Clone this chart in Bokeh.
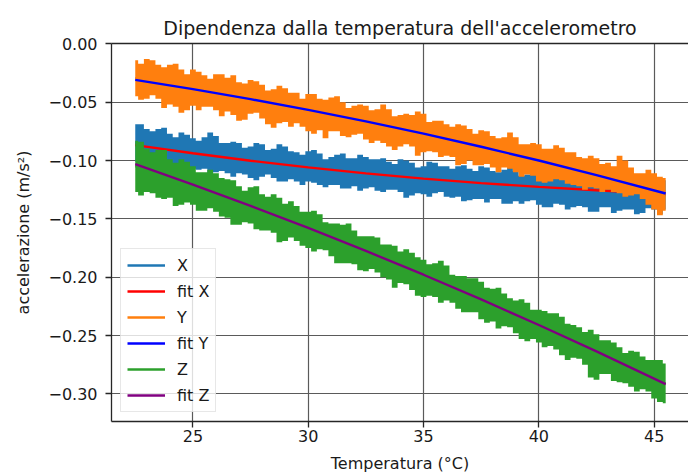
from bokeh.plotting import figure
from bokeh.models import Legend, LegendItem, FixedTicker, LinearAxis, Range1d
from bokeh.embed import file_html
from bokeh.resources import INLINE

# ---- data ----
TEMP = [22.5, 22.75, 23.0, 23.25, 23.5, 23.75, 24.0, 24.25, 24.5, 24.75,
        25.0, 25.25, 25.5, 25.75, 26.0, 26.25, 26.5, 26.75, 27.0, 27.25,
        27.5, 27.75, 28.0, 28.25, 28.5, 28.75, 29.0, 29.25, 29.5, 29.75,
        30.0, 30.25, 30.5, 30.75, 31.0, 31.25, 31.5, 31.75, 32.0, 32.25,
        32.5, 32.75, 33.0, 33.25, 33.5, 33.75, 34.0, 34.25, 34.5, 34.75,
        35.0, 35.25, 35.5, 35.75, 36.0, 36.25, 36.5, 36.75, 37.0, 37.25,
        37.5, 37.75, 38.0, 38.25, 38.5, 38.75, 39.0, 39.25, 39.5, 39.75,
        40.0, 40.25, 40.5, 40.75, 41.0, 41.25, 41.5, 41.75, 42.0, 42.25,
        42.5, 42.75, 43.0, 43.25, 43.5, 43.75, 44.0, 44.25, 44.5, 44.75,
        45.0, 45.25, 45.5]

# noisy measurements: upper / lower envelope of each trace
X_UP = [-0.069, -0.069, -0.073, -0.075, -0.073, -0.072, -0.077, -0.080, -0.076, -0.078,
        -0.081, -0.083, -0.080, -0.076, -0.079, -0.085, -0.085, -0.084, -0.085, -0.089,
        -0.088, -0.085, -0.086, -0.091, -0.090, -0.086, -0.088, -0.092, -0.093, -0.095,
        -0.092, -0.091, -0.094, -0.099, -0.097, -0.095, -0.094, -0.098, -0.098, -0.095,
        -0.097, -0.099, -0.099, -0.098, -0.101, -0.103, -0.099, -0.100, -0.102, -0.106,
        -0.105, -0.101, -0.102, -0.105, -0.105, -0.107, -0.105, -0.104, -0.107, -0.109,
        -0.105, -0.106, -0.109, -0.110, -0.108, -0.106, -0.109, -0.113, -0.112, -0.110,
        -0.110, -0.113, -0.111, -0.110, -0.113, -0.115, -0.111, -0.111, -0.113, -0.115,
        -0.115, -0.113, -0.114, -0.118, -0.117, -0.115, -0.115, -0.119, -0.117, -0.114,
        -0.115, -0.117, -0.117]
X_LO = [-0.101, -0.099, -0.101, -0.106, -0.105, -0.103, -0.103, -0.107, -0.106, -0.104,
        -0.107, -0.108, -0.107, -0.111, -0.110, -0.109, -0.111, -0.114, -0.111, -0.112,
        -0.115, -0.117, -0.114, -0.112, -0.115, -0.118, -0.118, -0.116, -0.118, -0.121,
        -0.118, -0.119, -0.121, -0.123, -0.121, -0.121, -0.124, -0.124, -0.122, -0.126,
        -0.124, -0.123, -0.126, -0.127, -0.125, -0.125, -0.127, -0.132, -0.130, -0.128,
        -0.129, -0.131, -0.128, -0.127, -0.131, -0.132, -0.131, -0.135, -0.134, -0.133,
        -0.133, -0.136, -0.133, -0.133, -0.137, -0.137, -0.135, -0.137, -0.135, -0.134,
        -0.138, -0.140, -0.140, -0.137, -0.138, -0.142, -0.140, -0.139, -0.140, -0.144,
        -0.144, -0.140, -0.140, -0.145, -0.143, -0.142, -0.142, -0.146, -0.145, -0.141,
        -0.142, -0.146, -0.142]

Y_UP = [-0.014, -0.017, -0.013, -0.014, -0.018, -0.020, -0.018, -0.017, -0.022, -0.026,
        -0.022, -0.024, -0.027, -0.030, -0.026, -0.026, -0.029, -0.027, -0.033, -0.034,
        -0.031, -0.032, -0.035, -0.040, -0.039, -0.036, -0.038, -0.042, -0.042, -0.047,
        -0.043, -0.043, -0.047, -0.048, -0.046, -0.045, -0.050, -0.055, -0.053, -0.052,
        -0.053, -0.057, -0.056, -0.052, -0.056, -0.062, -0.061, -0.060, -0.061, -0.058,
        -0.060, -0.067, -0.066, -0.066, -0.069, -0.071, -0.069, -0.070, -0.073, -0.077,
        -0.074, -0.075, -0.079, -0.081, -0.080, -0.076, -0.080, -0.086, -0.086, -0.085,
        -0.086, -0.090, -0.090, -0.087, -0.089, -0.093, -0.093, -0.097, -0.098, -0.096,
        -0.098, -0.103, -0.102, -0.105, -0.096, -0.100, -0.106, -0.111, -0.111, -0.108,
        -0.111, -0.114, -0.115]
Y_LO = [-0.045, -0.048, -0.047, -0.044, -0.047, -0.055, -0.052, -0.054, -0.059, -0.057,
        -0.053, -0.057, -0.054, -0.054, -0.057, -0.062, -0.058, -0.061, -0.066, -0.065,
        -0.060, -0.059, -0.064, -0.069, -0.072, -0.068, -0.067, -0.071, -0.068, -0.071,
        -0.075, -0.077, -0.074, -0.081, -0.075, -0.075, -0.079, -0.080, -0.078, -0.077,
        -0.082, -0.085, -0.083, -0.085, -0.088, -0.091, -0.088, -0.086, -0.088, -0.096,
        -0.093, -0.092, -0.093, -0.097, -0.096, -0.097, -0.104, -0.103, -0.100, -0.104,
        -0.104, -0.103, -0.106, -0.110, -0.106, -0.107, -0.110, -0.114, -0.112, -0.113,
        -0.118, -0.119, -0.118, -0.116, -0.117, -0.120, -0.121, -0.122, -0.125, -0.123,
        -0.124, -0.127, -0.125, -0.127, -0.128, -0.131, -0.130, -0.129, -0.133, -0.138,
        -0.142, -0.147, -0.143]

Z_UP = [-0.083, -0.084, -0.090, -0.093, -0.091, -0.091, -0.099, -0.102, -0.099, -0.101,
        -0.105, -0.110, -0.110, -0.108, -0.111, -0.115, -0.116, -0.117, -0.122, -0.126,
        -0.123, -0.122, -0.129, -0.131, -0.129, -0.132, -0.137, -0.135, -0.139, -0.144,
        -0.144, -0.143, -0.146, -0.153, -0.154, -0.154, -0.155, -0.154, -0.160, -0.165,
        -0.165, -0.165, -0.166, -0.172, -0.172, -0.173, -0.178, -0.176, -0.179, -0.183,
        -0.185, -0.189, -0.188, -0.186, -0.190, -0.198, -0.199, -0.199, -0.201, -0.201,
        -0.204, -0.209, -0.210, -0.209, -0.214, -0.218, -0.220, -0.219, -0.222, -0.228,
        -0.228, -0.229, -0.231, -0.231, -0.234, -0.240, -0.241, -0.243, -0.247, -0.245,
        -0.249, -0.254, -0.254, -0.256, -0.260, -0.265, -0.263, -0.264, -0.268, -0.271,
        -0.271, -0.271, -0.274]
Z_LO = [-0.127, -0.130, -0.127, -0.128, -0.132, -0.133, -0.132, -0.139, -0.138, -0.136,
        -0.138, -0.143, -0.143, -0.141, -0.144, -0.148, -0.149, -0.155, -0.155, -0.153,
        -0.154, -0.159, -0.160, -0.160, -0.162, -0.170, -0.169, -0.166, -0.169, -0.173,
        -0.175, -0.178, -0.176, -0.177, -0.182, -0.188, -0.188, -0.188, -0.189, -0.194,
        -0.195, -0.193, -0.196, -0.200, -0.202, -0.209, -0.205, -0.206, -0.211, -0.216,
        -0.217, -0.216, -0.217, -0.222, -0.220, -0.222, -0.227, -0.230, -0.230, -0.230,
        -0.236, -0.239, -0.238, -0.244, -0.242, -0.243, -0.248, -0.253, -0.255, -0.253,
        -0.256, -0.260, -0.259, -0.262, -0.267, -0.271, -0.269, -0.270, -0.275, -0.286,
        -0.288, -0.283, -0.283, -0.289, -0.290, -0.291, -0.294, -0.298, -0.296, -0.298,
        -0.304, -0.307, -0.308]

# fitted curves
FIT_T = [22.5, 25.0, 27.5, 30.0, 32.5, 35.0, 37.5, 40.0, 42.5, 45.5]
FIT_X = [-0.0868, -0.0938, -0.1002, -0.1059, -0.1110, -0.1155, -0.1194, -0.1226, -0.1255, -0.1288]
FIT_Y = [-0.0309, -0.0388, -0.0474, -0.0566, -0.0665, -0.0770, -0.0882, -0.1000, -0.1125, -0.1283]
FIT_Z = [-0.1031, -0.1206, -0.1389, -0.1578, -0.1775, -0.1979, -0.2191, -0.2410, -0.2636, -0.2917]

X_TICKS = [25, 30, 35, 40, 45]
X_TICK_LABELS = ["25", "30", "35", "40", "45"]
Y_TICKS = [0.0, -0.05, -0.10, -0.15, -0.20, -0.25, -0.30]
Y_TICK_LABELS = ["0.00", "\u22120.05", "\u22120.10", "\u22120.15", "\u22120.20", "\u22120.25", "\u22120.30"]

TITLE = "Dipendenza dalla temperatura dell'accelerometro"
X_LABEL = "Temperatura (°C)"
Y_LABEL = "accelerazione (m/s²)"
NAMES = ["X", "fit X", "Y", "fit Y", "Z", "fit Z"]

FONT = "DejaVu Sans"
TXT = "#1a1a1a"

p = figure(width=688, height=475, output_backend="svg", toolbar_location=None,
           x_range=Range1d(21.47, 46.49), y_range=Range1d(-0.3237, 0.0003),
           min_border_left=111, min_border_right=0, min_border_top=43,
           min_border_bottom=54)
p.outline_line_color = None
p.background_fill_color = "white"

p.title.text = TITLE
p.title.text_font = FONT
p.title.text_font_size = "19px"
p.title.text_font_style = "normal"
p.title.text_color = TXT
p.title.align = "center"
p.title.standoff = 9

# axes
xa = p.xaxis[0]
ya = p.yaxis[0]
xa.ticker = FixedTicker(ticks=X_TICKS)
ya.ticker = FixedTicker(ticks=Y_TICKS)
xa.major_label_overrides = {t: l for t, l in zip(X_TICKS, X_TICK_LABELS)}
ya.major_label_overrides = {t: l for t, l in zip(Y_TICKS, Y_TICK_LABELS)}
for ax in (xa, ya):
    ax.axis_line_color = "#262626"
    ax.axis_line_width = 1.3
    ax.major_tick_line_color = "#262626"
    ax.major_tick_line_width = 1.3
    ax.major_tick_out = 6
    ax.major_tick_in = 0
    ax.minor_tick_line_color = None
    ax.major_label_text_font = FONT
    ax.major_label_text_font_size = "16px"
    ax.major_label_text_color = TXT
    ax.axis_label_text_font = FONT
    ax.axis_label_text_font_size = "16px"
    ax.axis_label_text_font_style = "normal"
    ax.axis_label_text_color = TXT
xa.axis_label = X_LABEL
ya.axis_label = Y_LABEL
xa.major_label_standoff = 2
xa.axis_label_standoff = 9
ya.major_label_standoff = 8
ya.axis_label_standoff = 12

top = LinearAxis(ticker=FixedTicker(ticks=[]), axis_line_color="#262626",
                 axis_line_width=1.3, major_tick_line_color=None,
                 minor_tick_line_color=None, major_label_text_font_size="0px")
p.add_layout(top, "above")

p.xgrid.ticker = FixedTicker(ticks=X_TICKS)
p.ygrid.ticker = FixedTicker(ticks=Y_TICKS)
for g in (p.xgrid[0], p.ygrid[0]):
    g.grid_line_color = "#5a5a5a"
    g.grid_line_width = 1.2

C_X, C_Y, C_Z = "#1f77b4", "#ff7f0e", "#2ca02c"
C_FX, C_FY, C_FZ = "#ff0000", "#0000ff", "#800080"

def trace(up, lo, color):
    mid = [(a + b) / 2 for a, b in zip(up, lo)]
    r_line = p.step(TEMP, mid, mode="center", line_color=color, line_width=2.4)
    p.varea_step(x=TEMP, y1=lo, y2=up, step_mode="center", fill_color=color)
    return r_line

r_x = trace(X_UP, X_LO, C_X)
r_fx = p.line(FIT_T, FIT_X, line_color=C_FX, line_width=2.4)
r_y = trace(Y_UP, Y_LO, C_Y)
r_fy = p.line(FIT_T, FIT_Y, line_color=C_FY, line_width=2.4)
r_z = trace(Z_UP, Z_LO, C_Z)
r_fz = p.line(FIT_T, FIT_Z, line_color=C_FZ, line_width=2.4)

items = [LegendItem(label=n, renderers=[r]) for n, r in
         zip(NAMES, [r_x, r_fx, r_y, r_fy, r_z, r_fz])]
legend = Legend(items=items, location=(9, 9), orientation="vertical",
                label_text_font=FONT, label_text_font_size="16px",
                label_text_color=TXT, glyph_width=38, glyph_height=20,
                label_height=20, spacing=6, padding=6, label_standoff=12,
                border_line_color="#d0d0d0", border_line_width=1.2,
                background_fill_color="white", background_fill_alpha=0.8,
                margin=0)
p.add_layout(legend, "center")

open("out.html", "w").write(file_html(p, INLINE))
